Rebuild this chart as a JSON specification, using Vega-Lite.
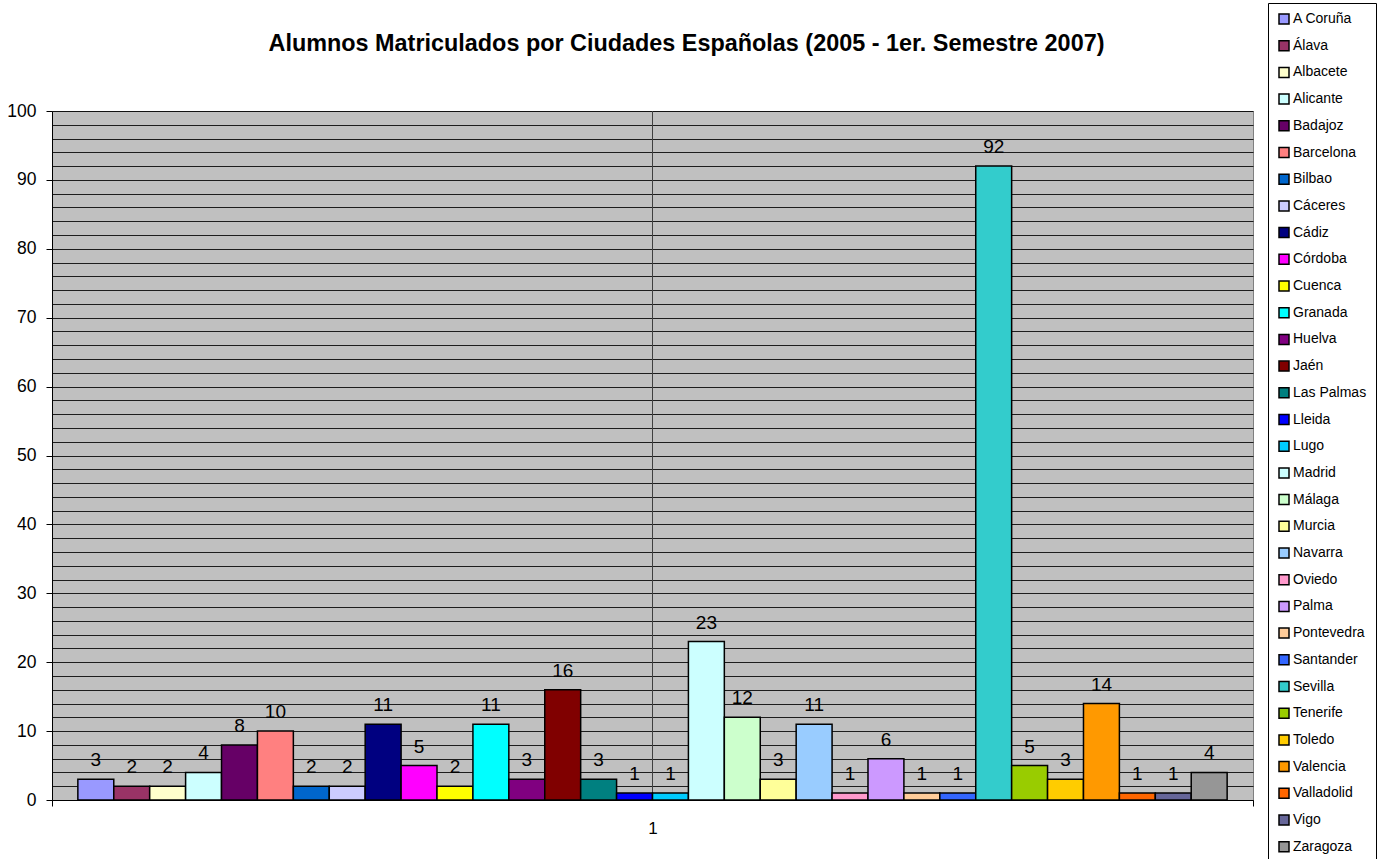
{
  "$schema": "https://vega.github.io/schema/vega-lite/v6.json",
  "width": 1201,
  "height": 689,
  "autosize": {"type": "none"},
  "padding": {"left": 52, "top": 111, "right": 129, "bottom": 59},
  "background": "white",
  "title": {
    "text": "Alumnos Matriculados por Ciudades Españolas (2005 - 1er. Semestre 2007)",
    "font": "Liberation Sans",
    "fontSize": 23.4,
    "fontWeight": "bold",
    "color": "black",
    "anchor": "middle",
    "frame": "group",
    "dx": 34,
    "dy": 106,
    "offset": 52
  },
  "config": {
    "view": {"fill": "#C0C0C0", "stroke": "#808080", "strokeWidth": 1},
    "font": "Liberation Sans"
  },
  "data": {
    "values": [
      {"ciudad": "A Coruña", "alumnos": 3},
      {"ciudad": "Álava", "alumnos": 2},
      {"ciudad": "Albacete", "alumnos": 2},
      {"ciudad": "Alicante", "alumnos": 4},
      {"ciudad": "Badajoz", "alumnos": 8},
      {"ciudad": "Barcelona", "alumnos": 10},
      {"ciudad": "Bilbao", "alumnos": 2},
      {"ciudad": "Cáceres", "alumnos": 2},
      {"ciudad": "Cádiz", "alumnos": 11},
      {"ciudad": "Córdoba", "alumnos": 5},
      {"ciudad": "Cuenca", "alumnos": 2},
      {"ciudad": "Granada", "alumnos": 11},
      {"ciudad": "Huelva", "alumnos": 3},
      {"ciudad": "Jaén", "alumnos": 16},
      {"ciudad": "Las Palmas", "alumnos": 3},
      {"ciudad": "Lleida", "alumnos": 1},
      {"ciudad": "Lugo", "alumnos": 1},
      {"ciudad": "Madrid", "alumnos": 23},
      {"ciudad": "Málaga", "alumnos": 12},
      {"ciudad": "Murcia", "alumnos": 3},
      {"ciudad": "Navarra", "alumnos": 11},
      {"ciudad": "Oviedo", "alumnos": 1},
      {"ciudad": "Palma", "alumnos": 6},
      {"ciudad": "Pontevedra", "alumnos": 1},
      {"ciudad": "Santander", "alumnos": 1},
      {"ciudad": "Sevilla", "alumnos": 92},
      {"ciudad": "Tenerife", "alumnos": 5},
      {"ciudad": "Toledo", "alumnos": 3},
      {"ciudad": "Valencia", "alumnos": 14},
      {"ciudad": "Valladolid", "alumnos": 1},
      {"ciudad": "Vigo", "alumnos": 1},
      {"ciudad": "Zaragoza", "alumnos": 4}
    ]
  },
  "resolve": {"scale": {"x": "independent"}},
  "layer": [
    {
      "data": {"values": [{"categoria": "1"}]},
      "mark": {"type": "rule", "color": "#404040", "strokeWidth": 1},
      "encoding": {
        "x": {
          "datum": 0.5,
          "type": "quantitative",
          "scale": {"domain": [0, 1], "nice": false, "zero": false},
          "axis": {
            "values": [0, 1],
            "labels": false,
            "tickSize": 6,
            "tickColor": "black",
            "domainColor": "black",
            "grid": false,
            "title": "1",
            "titleFont": "Liberation Sans",
            "titleFontSize": 17,
            "titleFontWeight": "normal",
            "titleColor": "black",
            "titlePadding": 14
          }
        }
      }
    },
    {
      "encoding": {
        "x": {
          "field": "ciudad",
          "type": "nominal",
          "sort": null,
          "scale": {"paddingInner": 0, "paddingOuter": 0.72},
          "axis": null
        },
        "y": {
          "field": "alumnos",
          "type": "quantitative",
          "scale": {"domain": [0, 100], "nice": false},
          "axis": {
            "title": null,
            "values": [0, 2, 4, 6, 8, 10, 12, 14, 16, 18, 20, 22, 24, 26, 28, 30, 32, 34, 36, 38, 40, 42, 44, 46, 48, 50, 52, 54, 56, 58, 60, 62, 64, 66, 68, 70, 72, 74, 76, 78, 80, 82, 84, 86, 88, 90, 92, 94, 96, 98, 100],
            "labelExpr": "datum.value % 10 === 0 ? datum.label : ''",
            "labelFont": "Liberation Sans",
            "labelFontSize": 17.5,
            "labelColor": "black",
            "labelPadding": 10,
            "labelOverlap": false,
            "tickSize": 6,
            "tickColor": "black",
            "tickOpacity": {"condition": {"test": "datum.value % 10 === 0", "value": 1}, "value": 0},
            "domainColor": "black",
            "grid": true,
            "gridColor": "black",
            "gridWidth": 1,
            "gridOpacity": 0.85
          }
        }
      },
      "layer": [
        {
          "mark": {"type": "bar", "stroke": "black", "strokeWidth": 1.5},
          "encoding": {
            "color": {
              "field": "ciudad",
              "type": "nominal",
              "scale": {
                "domain": ["A Coruña", "Álava", "Albacete", "Alicante", "Badajoz", "Barcelona", "Bilbao", "Cáceres", "Cádiz", "Córdoba", "Cuenca", "Granada", "Huelva", "Jaén", "Las Palmas", "Lleida", "Lugo", "Madrid", "Málaga", "Murcia", "Navarra", "Oviedo", "Palma", "Pontevedra", "Santander", "Sevilla", "Tenerife", "Toledo", "Valencia", "Valladolid", "Vigo", "Zaragoza"],
                "range": ["#9999FF", "#993366", "#FFFFCC", "#CCFFFF", "#660066", "#FF8080", "#0066CC", "#CCCCFF", "#000080", "#FF00FF", "#FFFF00", "#00FFFF", "#800080", "#800000", "#008080", "#0000FF", "#00CCFF", "#CCFFFF", "#CCFFCC", "#FFFF99", "#99CCFF", "#FF99CC", "#CC99FF", "#FFCC99", "#3366FF", "#33CCCC", "#99CC00", "#FFCC00", "#FF9900", "#FF6600", "#666699", "#969696"]
              },
              "legend": {
                "title": null,
                "orient": "none",
                "legendX": 1216,
                "legendY": -108,
                "direction": "vertical",
                "columns": 1,
                "symbolLimit": 40,
                "fillColor": "white",
                "strokeColor": "black",
                "padding": 9,
                "symbolType": "square",
                "symbolSize": 100,
                "symbolStrokeColor": "black",
                "symbolStrokeWidth": 1.5,
                "symbolOpacity": 1,
                "labelFont": "Liberation Sans",
                "labelFontSize": 14,
                "labelColor": "black",
                "labelOffset": 2,
                "labelLimit": 200,
                "rowPadding": 10.7
              }
            }
          }
        },
        {
          "mark": {"type": "text", "baseline": "alphabetic", "dy": -13, "fontSize": 19, "font": "Liberation Sans", "color": "black"},
          "encoding": {
            "text": {"field": "alumnos", "type": "quantitative"}
          }
        }
      ]
    }
  ]
}
